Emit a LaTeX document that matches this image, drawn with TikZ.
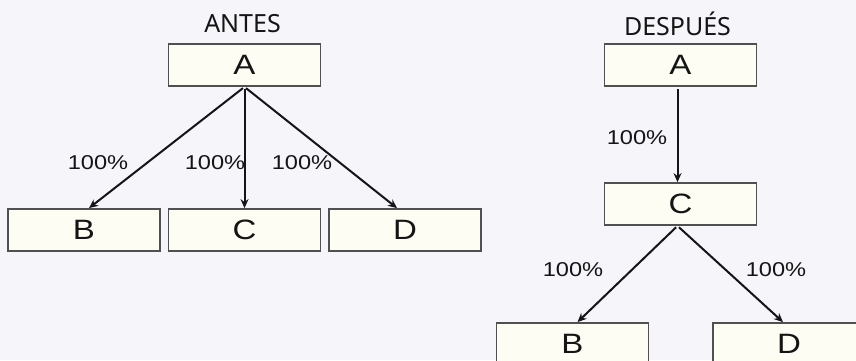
\documentclass[tikz,border=0pt]{standalone}
\usepackage{fontspec}
\setmainfont[FakeStretch=1.18]{Liberation Sans}
\newfontfamily\titlefont{Noto Sans}
\usetikzlibrary{arrows.meta}
\definecolor{bgc}{HTML}{F5F5FA}
\definecolor{boxfill}{HTML}{FDFDF4}
\definecolor{boxline}{HTML}{505050}
\definecolor{ink}{HTML}{151515}
\tikzset{
  blk/.style={draw=boxline, fill=boxfill, line width=1.8pt, minimum width=152pt,
    minimum height=42pt, inner sep=0pt, font=\fontsize{28}{28}\selectfont, text=ink},
  ttl/.style={font=\titlefont\fontsize{25}{25}\selectfont, text=ink, inner sep=0pt},
  pct/.style={font=\fontsize{20}{20}\selectfont, text=ink, inner sep=0pt},
  flow/.style={draw=ink, line width=2pt, -{Stealth[length=9pt,width=8pt]}, shorten <=2pt}
}
\begin{document}
\begin{tikzpicture}[x=1pt,y=-1pt]
  \fill[bgc] (0,0) rectangle (856,360);
  \useasboundingbox (0,0) rectangle (856,360);

  % before: A feeds B, C and D directly
  \node[ttl] (t1) at (242.5,24) {ANTES};
  \node[blk] (a1) at (244.5,65) {A};
  \node[blk] (b1) at (84,230) {B};
  \node[blk] (c1) at (244.5,230) {C};
  \node[blk] (d1) at (405,230) {D};
  \draw[flow] (a1.south) -- ([xshift=5pt]b1.north);
  \draw[flow] (a1.south) -- (c1.north);
  \draw[flow] (a1.south) -- ([xshift=-8pt]d1.north);
  \node[pct] (p1) at (98,163) {100\%};
  \node[pct] (p2) at (215,163) {100\%};
  \node[pct] (p3) at (302,163) {100\%};

  % after: A feeds C, which feeds B and D
  \node[ttl] (t2) at (677.5,24) {DESPUÉS};
  \node[blk] (a2) at (680.5,65) {A};
  \node[blk] (c2) at (680.5,204) {C};
  \node[blk] (b2) at (572.5,344) {B};
  \node[blk] (d2) at (789,344) {D};
  \draw[flow] ([xshift=-3pt]a2.south) -- ([xshift=-3pt]c2.north);
  \draw[flow] ([xshift=-3pt]c2.south) -- ([xshift=5pt]b2.north);
  \draw[flow] ([xshift=-3pt]c2.south) -- ([xshift=-6pt]d2.north);
  \node[pct] (p4) at (637,138) {100\%};
  \node[pct] (p5) at (573,270) {100\%};
  \node[pct] (p6) at (776,270) {100\%};
\end{tikzpicture}
\end{document}
